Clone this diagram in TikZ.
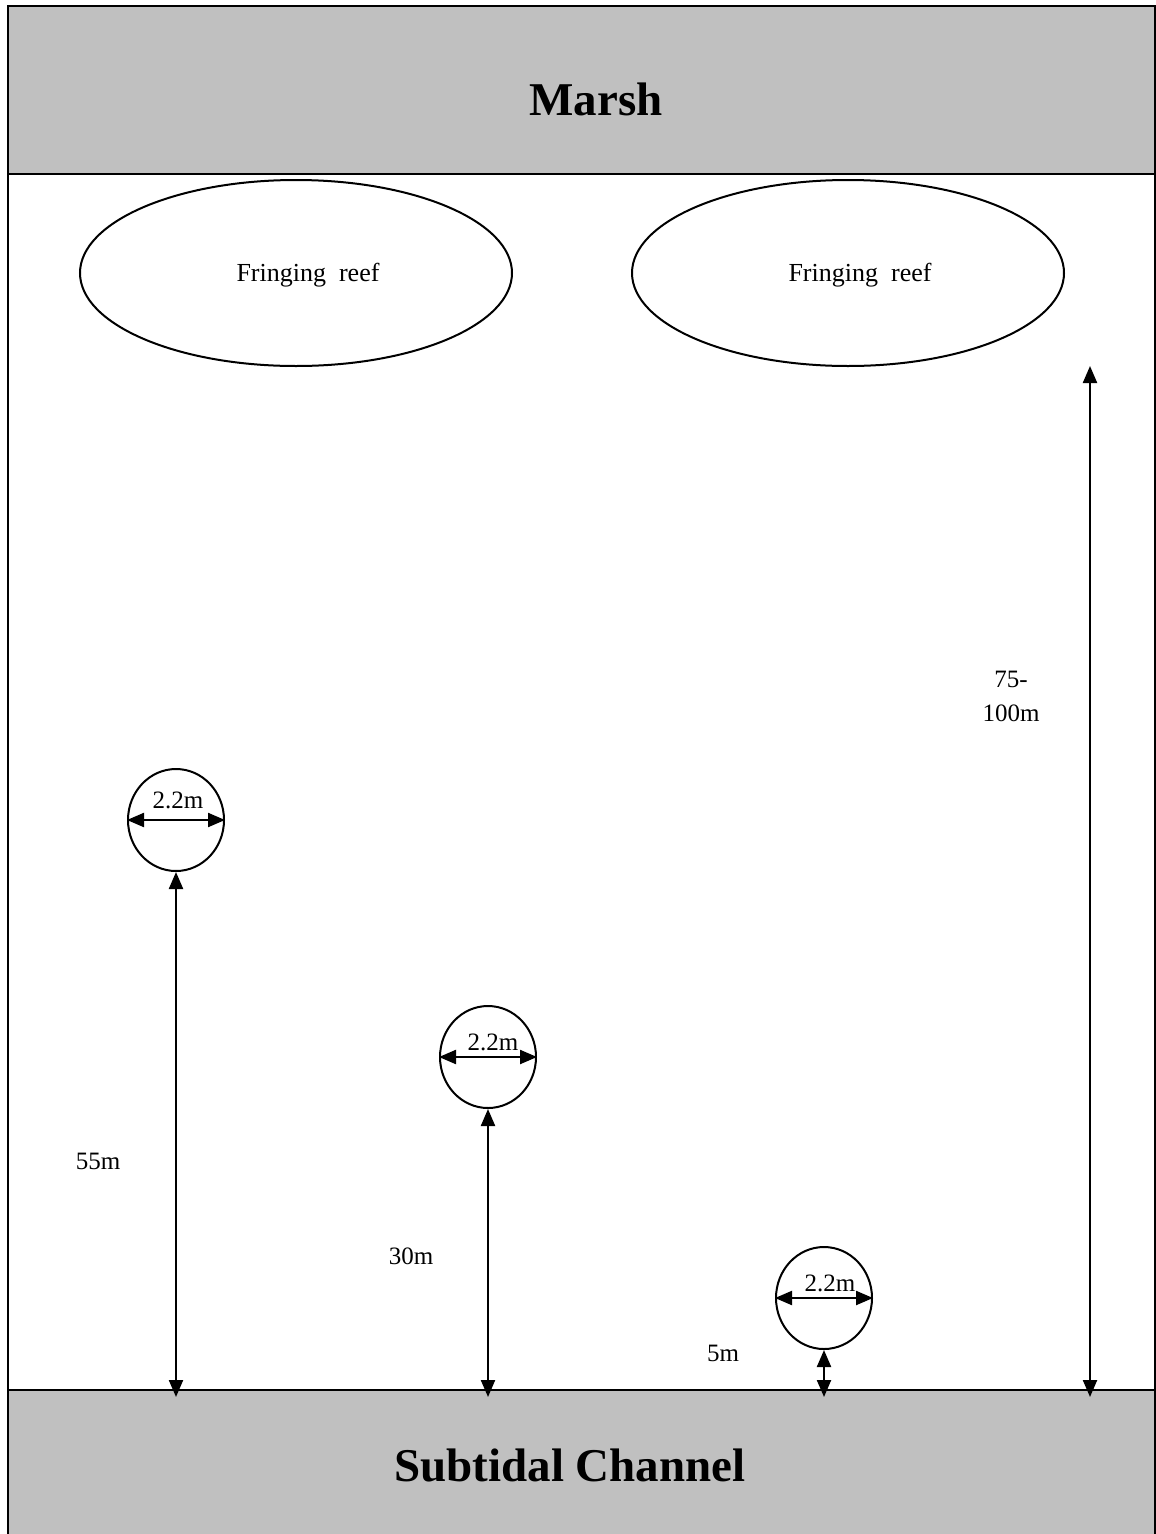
\documentclass[tikz,border=0pt]{standalone}
\usepackage{fontspec}
\setmainfont{Liberation Serif}
\usetikzlibrary{arrows.meta,shapes.geometric}
\definecolor{bandgray}{HTML}{C0C0C0}
\tikzset{
  bandfill/.style={fill=bandgray},
  bigtext/.style={font=\fontsize{47}{56}\selectfont\bfseries, inner sep=0pt},
  smalltext/.style={font=\fontsize{25}{34}\selectfont, inner sep=0pt, align=center},
  reef/.style={draw, line width=2pt, ellipse, minimum width=432pt, minimum height=186pt, inner sep=0pt},
  pool/.style={draw, line width=2pt, ellipse, minimum width=96pt, minimum height=102pt, inner sep=0pt},
  dim/.style={line width=2.2pt, {Triangle[length=17pt,width=14pt]}-{Triangle[length=17pt,width=14pt]}}
}
\begin{document}
\begin{tikzpicture}[x=1pt,y=-1pt]
\useasboundingbox (0,0) rectangle (1156,1534);
\clip (0,0) rectangle (1156,1534);
% bands
\fill[bandfill] (8,6) rectangle (1180,174);
\fill[bandfill] (8,1390) rectangle (1180,1560);
\draw[line width=2.5pt] (8,1560) -- (8,6) -- (1180,6);
\draw[line width=2.5pt] (8,174) -- (1180,174);
\draw[line width=2pt] (8,1390) -- (1180,1390);
\draw[line width=2.5pt] (1155,6) -- (1155,1560);
% band labels
\node[bigtext] (marsh) at (596,99) {Marsh};
\node[bigtext] (channel) at (570,1465) {Subtidal Channel};
% reefs
\node[reef] (r1) at (296,273) {};
\node[reef] (r2) at (848,273) {};
\node[smalltext, font=\fontsize{26}{34}\selectfont] (r1t) at (308,275) {Fringing\ \ reef};
\node[smalltext, font=\fontsize{26}{34}\selectfont] (r2t) at (860,275) {Fringing\ \ reef};
% pools
\node[pool] (c1) at (176,820) {};
\node[pool] (c2) at (488,1057) {};
\node[pool] (c3) at (824,1298) {};
\draw[dim] (c1.west) -- (c1.east);
\draw[dim] (c2.west) -- (c2.east);
\draw[dim] (c3.west) -- (c3.east);
\node[smalltext] (d1) at (178,800) {2.2m};
\node[smalltext] (d2) at (493,1042) {2.2m};
\node[smalltext] (d3) at (830,1283) {2.2m};
% distance arrows
\coordinate (b1) at (176,1397);
\coordinate (b2) at (488,1397);
\coordinate (b3) at (824,1397);
\coordinate (b4) at (1090,1397);
\coordinate (t4) at (1090,366);
\draw[dim] (c1.south) -- (b1);
\draw[dim] (c2.south) -- (b2);
\draw[dim] (c3.south) -- (b3);
\draw[dim] (t4) -- (b4);
\node[smalltext] (l1) at (98,1161) {55m};
\node[smalltext] (l2) at (411,1256) {30m};
\node[smalltext] (l3) at (723,1353) {5m};
\node[smalltext] (l4) at (1011,696) {75-\\100m};
\end{tikzpicture}
\end{document}
